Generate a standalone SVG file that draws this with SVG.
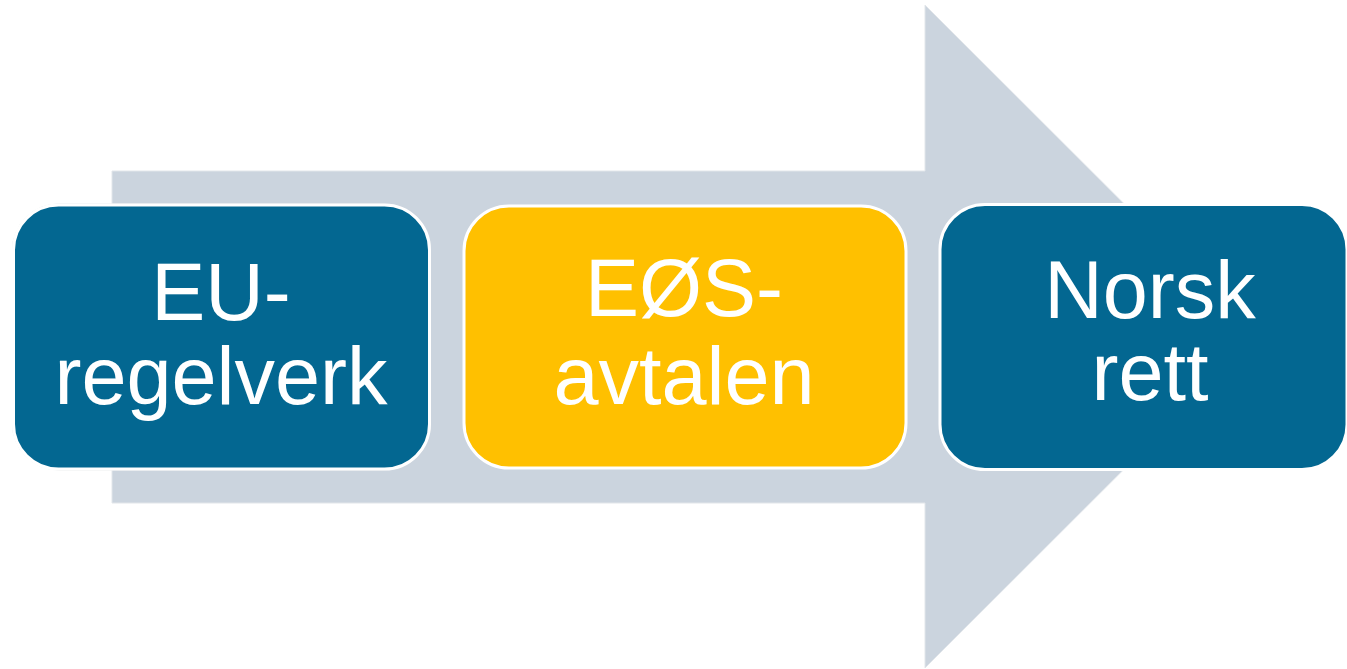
<svg xmlns="http://www.w3.org/2000/svg" width="1347" height="669" viewBox="0 0 1347 669">
<style>
.box{stroke:#ffffff;stroke-width:3}
.blue{fill:#036791}
.gold{fill:#FFC000}
.lbl{font-family:"Liberation Sans",Arial,sans-serif;font-size:81px;fill:#ffffff;text-anchor:middle}
</style>
<rect width="1347" height="669" fill="#ffffff"/>
<g id="connectors">
<path d="M112 171 H925 V5 L1257 336.5 L925 668 V503 H112 Z" fill="#CBD4DE" stroke="#E2E6EA" stroke-width="1"/>
</g>
<g id="node-eu">
<rect x="12.5" y="204" width="418" height="266" rx="46" fill="none" stroke="#DADDE0" stroke-width="1"/>
<rect x="13.5" y="205" width="416" height="264" rx="45" class="box blue"/>
<text class="lbl" x="221" y="320">EU-</text>
<text class="lbl" x="221" y="404">regelverk</text>
</g>
<g id="node-eos">
<rect x="464" y="206" width="442" height="262" rx="45" class="box gold"/>
<text class="lbl" x="684" y="316">EØS-</text>
<text class="lbl" x="684" y="404">avtalen</text>
</g>
<g id="node-norsk">
<rect x="940" y="204.5" width="407" height="265" rx="45" class="box blue"/>
<text class="lbl" x="1150" y="318">Norsk</text>
<text class="lbl" x="1150" y="400">rett</text>
</g>
</svg>
